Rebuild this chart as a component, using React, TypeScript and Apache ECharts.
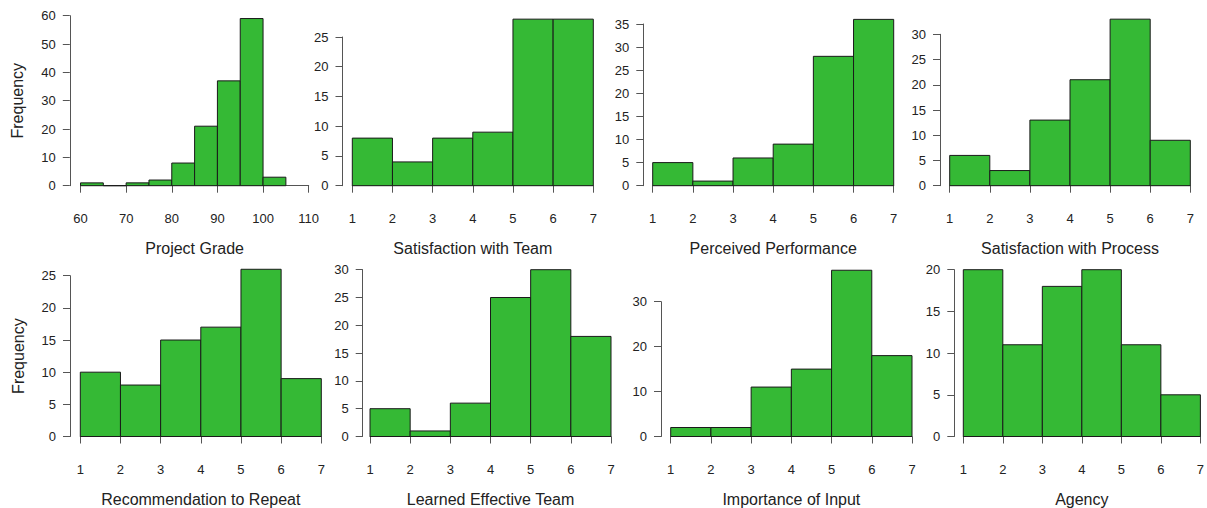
import React, { useEffect, useRef } from "react";
import * as echarts from "echarts";

const titles = [
  "Project Grade",
  "Satisfaction with Team",
  "Perceived Performance",
  "Satisfaction with Process",
  "Recommendation to Repeat",
  "Learned Effective Team",
  "Importance of Input",
  "Agency",
];

const gradeBreaks = [60, 65, 70, 75, 80, 85, 90, 95, 100, 105];
const likertBreaks = [1, 2, 3, 4, 5, 6, 7];

const gradeCounts = [1, 0, 1, 2, 8, 21, 37, 59, 3];
const teamCounts = [8, 4, 8, 9, 28, 28];
const performanceCounts = [5, 1, 6, 9, 28, 36];
const processCounts = [6, 3, 13, 21, 33, 9];
const repeatCounts = [10, 8, 15, 17, 26, 9];
const learnedCounts = [5, 1, 6, 25, 30, 18];
const inputCounts = [2, 2, 11, 15, 37, 18];
const agencyCounts = [20, 11, 18, 20, 11, 5];

const allCounts = [
  gradeCounts,
  teamCounts,
  performanceCounts,
  processCounts,
  repeatCounts,
  learnedCounts,
  inputCounts,
  agencyCounts,
];
const allBreaks = [gradeBreaks, likertBreaks, likertBreaks, likertBreaks, likertBreaks, likertBreaks, likertBreaks, likertBreaks];

// axis tick ranges
const xMin = [60, 1, 1, 1, 1, 1, 1, 1];
const xMax = [110, 7, 7, 7, 7, 7, 7, 7];
const xStep = [10, 1, 1, 1, 1, 1, 1, 1];
const yMax = [60, 25, 35, 30, 25, 30, 30, 20];
const yStep = [10, 5, 5, 5, 5, 5, 10, 5];
const showYName = [true, false, false, false, true, false, false, false];

// layout (pixels): x of first/last x tick, y of top y tick / zero, y-axis line x
const px0 = [80.5, 352.3, 652.7, 949.7, 80.3, 370, 670.7, 963.3];
const px1 = [308.7, 593.3, 893.7, 1190.3, 321.3, 611, 912, 1204.3];
const pyTop = [15.7, 37, 24, 34.3, 275.7, 269.7, 301.7, 269.7];
const pyZero = [185.7, 185.7, 185.7, 185.7, 437.3, 437.3, 437.3, 437.3];
const yAxisX = [69.8, 342.5, 643.3, 940, 70, 362.7, 661, 954.3];

const FILL = "#35b935";
const TEXT = "#222222";
const AXIS = "#555555";
const FONT = "Liberation Sans, Arial, sans-serif";

export default function App() {
  const ref = useRef<HTMLDivElement>(null);
  useEffect(() => {
    if (!ref.current) return;
    const chart = echarts.init(ref.current, null, { renderer: "svg" });
    const grid: any[] = [];
    const xAxis: any[] = [];
    const yAxis: any[] = [];
    const series: any[] = [];
    for (let i = 0; i < 8; i++) {
      grid.push({
        left: px0[i],
        top: pyTop[i],
        width: px1[i] - px0[i],
        height: pyZero[i] - pyTop[i],
        containLabel: false,
      });
      xAxis.push({
        type: "value",
        gridIndex: i,
        min: xMin[i],
        max: xMax[i],
        interval: xStep[i],
        offset: 7.5,
        name: titles[i],
        nameLocation: "middle",
        nameGap: 47,
        nameTextStyle: { fontSize: 16, color: TEXT, fontFamily: FONT },
        axisLine: { show: true, lineStyle: { color: AXIS, width: 1 } },
        axisTick: { show: true, length: 7, lineStyle: { color: AXIS, width: 1 } },
        axisLabel: { fontSize: 13, color: TEXT, fontFamily: FONT, margin: 19 },
        splitLine: { show: false },
      });
      yAxis.push({
        type: "value",
        gridIndex: i,
        min: 0,
        max: yMax[i],
        interval: yStep[i],
        offset: px0[i] - yAxisX[i],
        name: showYName[i] ? "Frequency" : "",
        nameLocation: "middle",
        nameRotate: 90,
        nameGap: 44,
        nameTextStyle: { fontSize: 16, color: TEXT, fontFamily: FONT },
        axisLine: { show: true, lineStyle: { color: AXIS, width: 1 } },
        axisTick: { show: true, length: 7, lineStyle: { color: AXIS, width: 1 } },
        axisLabel: { fontSize: 13, color: TEXT, fontFamily: FONT, margin: 14 },
        splitLine: { show: false },
      });
      const br = allBreaks[i];
      const data = allCounts[i].map((c, k) => [br[k], br[k + 1], c]);
      series.push({
        type: "custom",
        xAxisIndex: i,
        yAxisIndex: i,
        clip: false,
        encode: { x: [0, 1], y: 2 },
        data,
        renderItem: (params: any, api: any) => {
          const a = api.coord([api.value(0), api.value(2)]);
          const b = api.coord([api.value(1), 0]);
          return {
            type: "rect",
            shape: { x: a[0], y: a[1], width: b[0] - a[0], height: b[1] - a[1] },
            style: { fill: FILL, stroke: "#1a1a1a", lineWidth: 1 },
          };
        },
      });
    }
    chart.setOption({
      animation: false,
      backgroundColor: "#ffffff",
      grid,
      xAxis,
      yAxis,
      series,
    });
    return () => chart.dispose();
  }, []);
  return (
    <div
      ref={ref}
      style={{ position: "fixed", left: 0, top: 0, width: 1207, height: 508 }}
    />
  );
}
